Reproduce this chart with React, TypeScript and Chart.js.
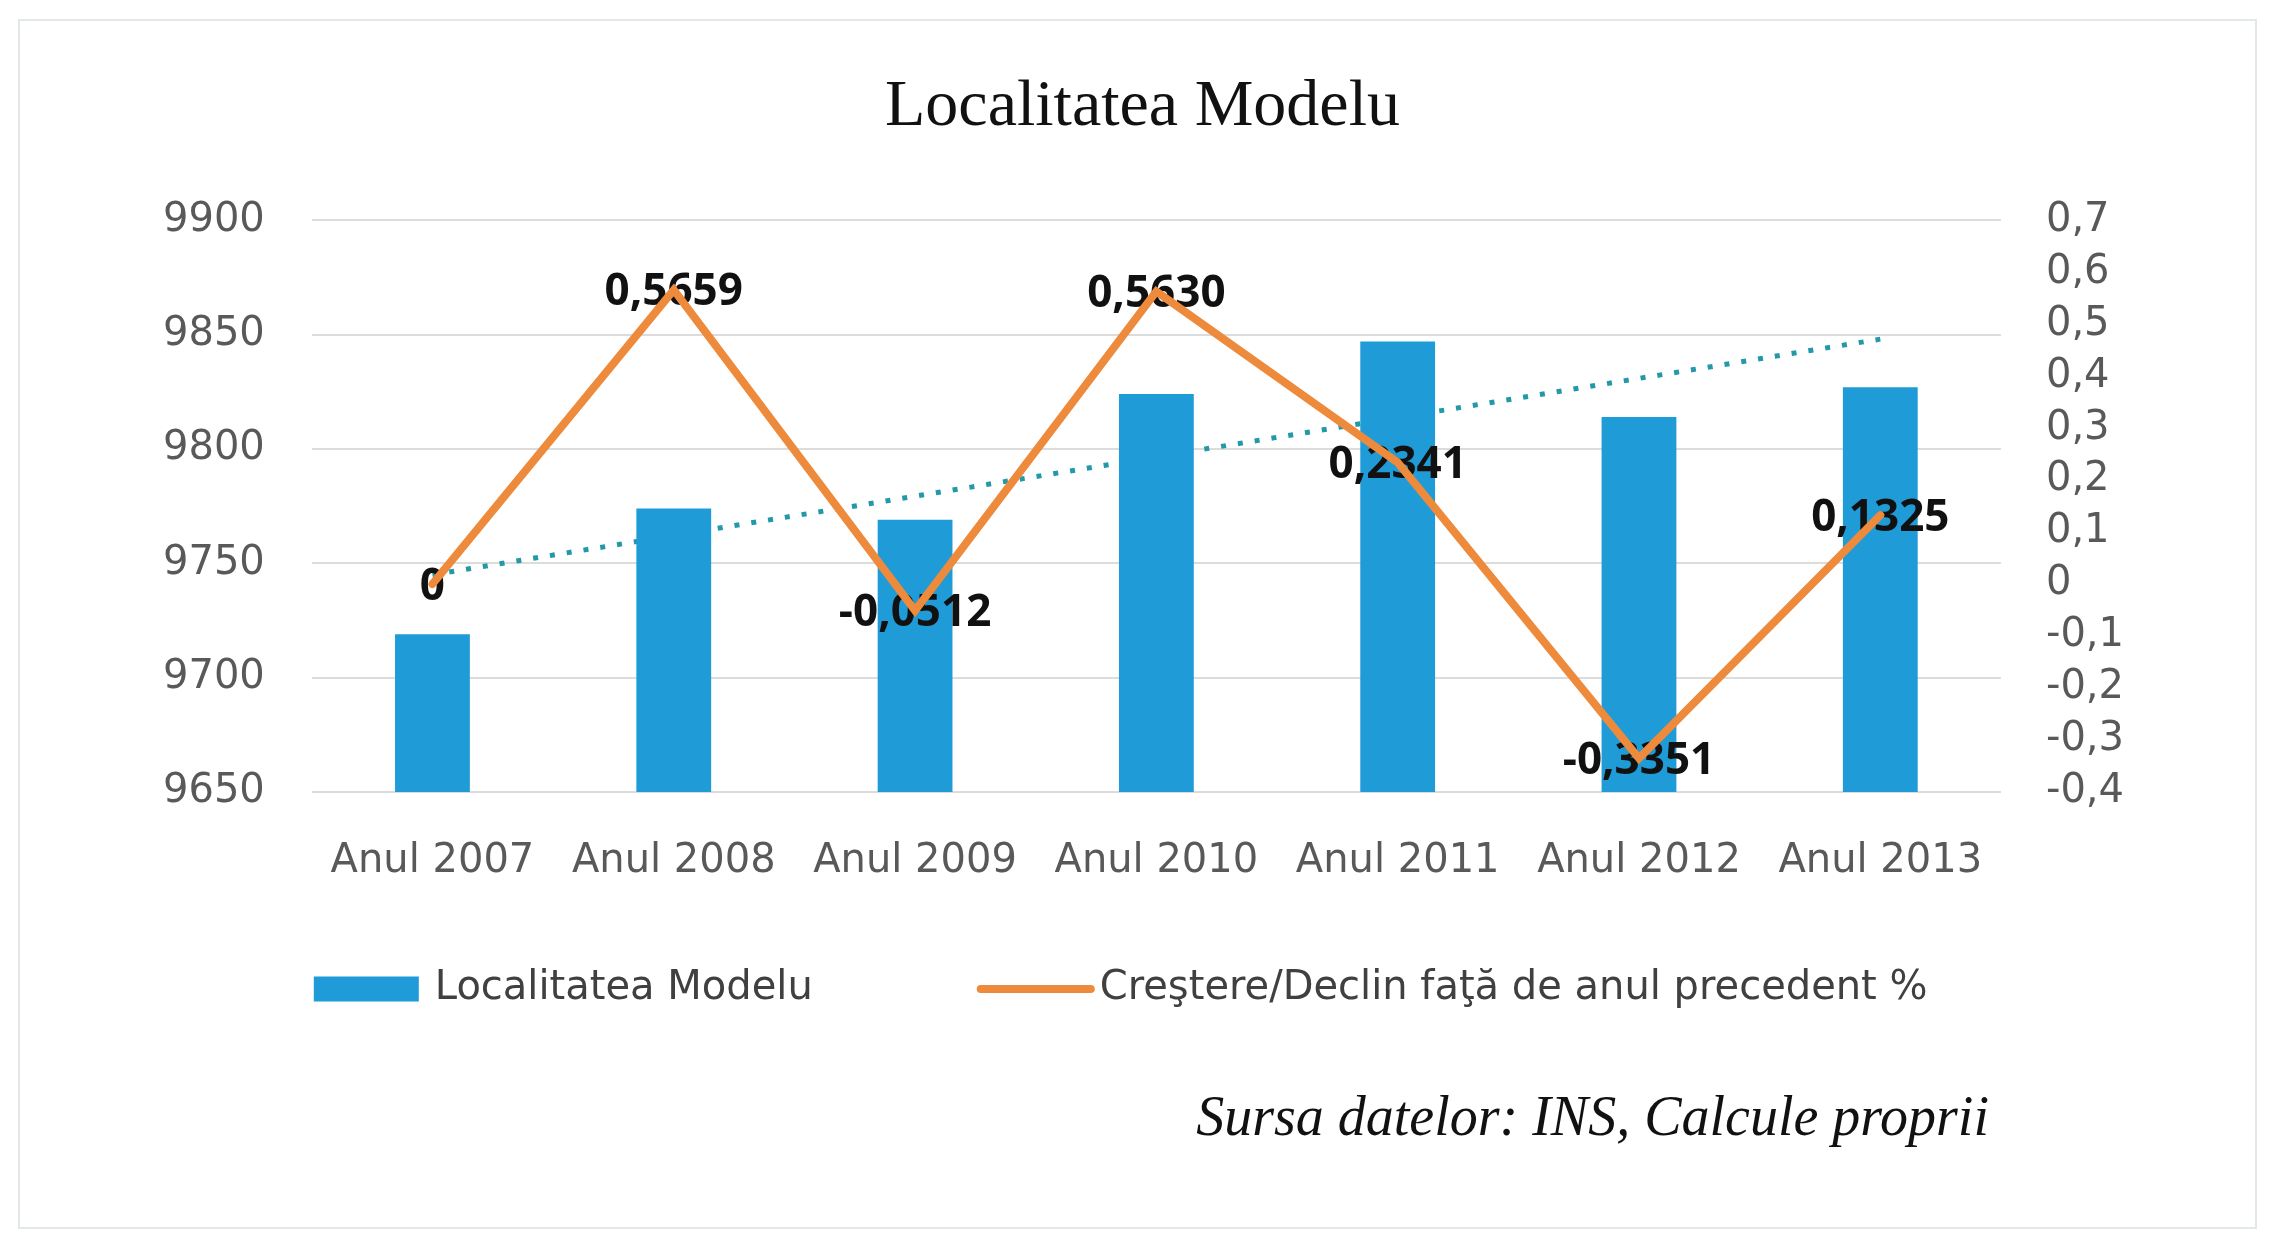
import React, { useEffect, useRef } from "react";
import { Chart, registerables } from "chart.js";

Chart.register(...registerables);

// ---------- data ----------
const chartTitle = "Localitatea Modelu";
const categories = ["Anul 2007", "Anul 2008", "Anul 2009", "Anul 2010", "Anul 2011", "Anul 2012", "Anul 2013"];
const populationLabel = "Localitatea Modelu";
const populationValues = [9719, 9774, 9769, 9824, 9847, 9814, 9827];
const growthLabel = "Creştere/Declin faţă de anul precedent %";
const growthValues = [0, 0.5659, -0.0512, 0.563, 0.2341, -0.3351, 0.1325];
// linear trend of the population bars (read at its two ends)
const trendValues = [9745, null, null, null, null, null, 9848];
const leftAxisRange = [9650, 9900];
const leftAxisStep = 50;
const rightAxisRange = [-0.4, 0.7];
const rightAxisStep = 0.1;
const sourceText = "Sursa datelor: INS, Calcule proprii";

// ---------- styles ----------
const BAR = "#1f9bd7";
const ORANGE = "#ee8a3b";
const TEAL = "#2298a8";
const GRID = "#dcdcdc";
const TICK = "#595959";
const SANS = "'DejaVu Sans', sans-serif";

const fmtGrowth = (v: number) => (v === 0 ? "0" : v.toFixed(4).replace(".", ","));
const fmtRight = (v: number) => (Math.abs(v) < 1e-9 ? "0" : Number(v).toFixed(1).replace(".", ","));

const labelsPlugin = {
  id: "growthLabels",
  afterDatasetDraw(chart: any, args: any) {
    if (args.index !== 0) return;
    const meta = chart.getDatasetMeta(1);
    const ctx = chart.ctx;
    ctx.save();
    ctx.font = "bold 44px 'Open Sans', sans-serif";
    ctx.fillStyle = "#111111";
    ctx.textAlign = "center";
    ctx.textBaseline = "middle";
    meta.data.forEach((pt: any, i: number) => {
      ctx.fillText(fmtGrowth(growthValues[i]), pt.x, pt.y + 3);
    });
    ctx.restore();
  },
};

const decorPlugin = {
  id: "frameLegendSource",
  beforeDraw(chart: any) {
    const ctx = chart.ctx;
    ctx.save();
    ctx.strokeStyle = "#e2e8e8";
    ctx.lineWidth = 2;
    ctx.strokeRect(19, 20, chart.width - 32, chart.height - 28);
    ctx.restore();
  },
  afterDraw(chart: any) {
    const ctx = chart.ctx;
    const ca = chart.chartArea;
    ctx.save();
    // legend
    const cy = ca.bottom + 197;
    let x = ca.left + 2;
    ctx.fillStyle = BAR;
    ctx.fillRect(x, cy - 12.5, 105, 25);
    x += 105 + 16;
    ctx.font = `40px ${SANS}`;
    ctx.fillStyle = "#404040";
    ctx.textAlign = "left";
    ctx.textBaseline = "middle";
    ctx.fillText(populationLabel, x, cy);
    x += ctx.measureText(populationLabel).width + 164;
    ctx.strokeStyle = ORANGE;
    ctx.lineWidth = 8;
    ctx.lineCap = "round";
    ctx.beginPath();
    ctx.moveTo(x + 4, cy);
    ctx.lineTo(x + 114, cy);
    ctx.stroke();
    x += 118 + 5;
    ctx.fillStyle = "#404040";
    ctx.fillText(growthLabel, x, cy);
    // source
    ctx.font = "italic 56px 'Liberation Serif', serif";
    ctx.fillStyle = "#111111";
    ctx.textAlign = "right";
    ctx.fillText(sourceText, ca.right - 12, ca.bottom + 328);
    ctx.restore();
  },
};

export default function App() {
  const canvasRef = useRef<HTMLCanvasElement | null>(null);

  useEffect(() => {
    const canvas = canvasRef.current;
    if (!canvas) return;
    const chart = new Chart(canvas, {
      type: "bar",
      data: {
        labels: categories,
        datasets: [
          {
            type: "bar",
            label: populationLabel,
            data: populationValues,
            backgroundColor: BAR,
            yAxisID: "y",
            order: 1,
            barPercentage: 0.31,
            categoryPercentage: 1,
          } as any,
          {
            type: "line",
            label: growthLabel,
            data: growthValues,
            borderColor: ORANGE,
            backgroundColor: ORANGE,
            borderWidth: 8,
            pointRadius: 0,
            tension: 0,
            borderJoinStyle: "miter",
            borderCapStyle: "round",
            yAxisID: "y1",
            order: 0,
          } as any,
          {
            type: "line",
            label: "trend",
            data: trendValues,
            borderColor: TEAL,
            borderWidth: 5,
            borderDash: [5, 12],
            pointRadius: 0,
            spanGaps: true,
            yAxisID: "y",
            order: 2,
          } as any,
        ],
      },
      options: {
        responsive: false,
        animation: false,
        layout: { padding: { left: 116, right: 100, top: 0, bottom: 312 } },
        plugins: {
          tooltip: { enabled: false },
          legend: { display: false },
          title: {
            display: true,
            text: chartTitle,
            color: "#111111",
            font: { family: "'Liberation Serif', serif", size: 66, weight: "normal" },
            padding: { top: 68, bottom: 73 },
          },
        },
        scales: {
          x: {
            grid: { display: false },
            border: { display: false },
            ticks: {
              color: TICK,
              font: { family: SANS, size: 40 },
              padding: 38,
              maxRotation: 0,
              autoSkip: false,
            },
          },
          y: {
            position: "left",
            min: leftAxisRange[0],
            max: leftAxisRange[1],
            grid: { color: GRID, lineWidth: 2, drawTicks: false },
            border: { display: false },
            ticks: {
              stepSize: leftAxisStep,
              padding: 47,
              autoSkip: false,
              color: TICK,
              font: { family: SANS, size: 40, lineHeight: 1 },
              callback: (v: any) => String(v),
            },
          },
          y1: {
            position: "right",
            min: rightAxisRange[0],
            max: rightAxisRange[1],
            grid: { display: false, drawTicks: false },
            border: { display: false },
            ticks: {
              stepSize: rightAxisStep,
              padding: 45,
              autoSkip: false,
              color: TICK,
              font: { family: SANS, size: 40, lineHeight: 1 },
              callback: (v: any) => fmtRight(Number(v)),
            },
          },
        },
      } as any,
      plugins: [labelsPlugin, decorPlugin],
    });
    return () => chart.destroy();
  }, []);

  return (
    <div style={{ position: "fixed", left: 0, top: 0, width: 2269, height: 1236, background: "#ffffff" }}>
      <canvas ref={canvasRef} width={2269} height={1236} style={{ display: "block" }} />
    </div>
  );
}
